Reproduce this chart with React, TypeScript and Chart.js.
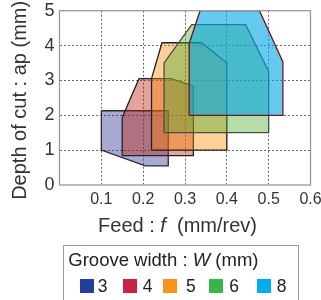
import React, { useEffect, useRef } from 'react';
import { Chart, registerables } from 'chart.js';

Chart.register(...registerables);

// ---- Data ----
const grooveWidths = ['3', '4', '5', '6', '8'];

// Operating-window polygons (feed f [mm/rev], depth of cut ap [mm]) per groove width
const feedW3 = [0.1, 0.26, 0.26, 0.205, 0.1];
const depthW3 = [2.13, 2.13, 0.55, 0.55, 1.0];

const feedW4 = [0.15, 0.15, 0.19, 0.267, 0.32, 0.32];
const depthW4 = [0.84, 1.94, 3.05, 3.05, 2.84, 0.84];

const feedW5 = [0.22, 0.22, 0.245, 0.34, 0.4, 0.4];
const depthW5 = [1.0, 3.05, 4.08, 4.08, 3.5, 1.0];

const feedW6 = [0.25, 0.25, 0.316, 0.445, 0.5, 0.5];
const depthW6 = [1.5, 3.5, 4.6, 4.6, 3.26, 1.5];

const feedW8 = [0.31, 0.31, 0.336, 0.478, 0.534, 0.534];
const depthW8 = [2.0, 4.06, 5.0, 5.0, 3.53, 2.0];

const xTickValues = [0.1, 0.2, 0.3, 0.4, 0.5, 0.6];
const yTickValues = [0, 1, 2, 3, 4, 5];

// ---- Styles ----
const FONT = '"Liberation Sans", Arial, Helvetica, sans-serif';
const fills = [
  'rgba(40,42,147,0.4)',
  'rgba(188,28,8,0.4)',
  'rgba(250,137,2,0.4)',
  'rgba(72,167,42,0.4)',
  'rgba(0,167,230,0.6)',
];
const borders = ['#2a2a2a', '#222222', '#222222', '#4a4a4a', '#6a1822'];
const legendColors = ['#21409a', '#cc2044', '#f7941d', '#39b54a', '#00aeef'];
const legendSwatchLeft = [80, 123.3, 163.3, 209.3, 257.3];
const legendLabelLeft = [97.7, 142.7, 186, 229.3, 276.7];

function poly(fx: number[], dy: number[]) {
  const pts = fx.map((x, i) => ({ x, y: dy[i] }));
  pts.push({ ...pts[0] });
  return pts;
}

const framePlugin = {
  id: 'frame',
  afterDatasetsDraw(chart: any) {
    const { ctx, chartArea: a } = chart;
    ctx.save();
    ctx.strokeStyle = '#9a9a9a';
    ctx.lineWidth = 1.3;
    ctx.strokeRect(a.left, a.top, a.right - a.left, a.bottom - a.top);
    ctx.restore();
  },
};

const titlesPlugin = {
  id: 'axisTitles',
  afterDraw(chart: any) {
    const { ctx, chartArea: a } = chart;
    ctx.save();
    ctx.fillStyle = '#333333';
    // x-axis title with italic f
    const parts = [
      { t: 'Feed : ', it: false },
      { t: 'f', it: true },
      { t: '  (mm/rev)', it: false },
    ];
    const size = 20;
    let total = 0;
    const widths = parts.map((p) => {
      ctx.font = `${p.it ? 'italic ' : ''}${size}px ${FONT}`;
      const w = ctx.measureText(p.t).width;
      total += w;
      return w;
    });
    let x = a.left + 118 - total / 2;
    const yBase = a.bottom + 47.3;
    ctx.textAlign = 'left';
    ctx.textBaseline = 'alphabetic';
    parts.forEach((p, i) => {
      ctx.font = `${p.it ? 'italic ' : ''}${size}px ${FONT}`;
      ctx.fillText(p.t, x, yBase);
      x += widths[i];
    });
    // y-axis title
    ctx.translate(26, (a.top + a.bottom) / 2 + 2.5);
    ctx.rotate(-Math.PI / 2);
    ctx.font = `20px ${FONT}`;
    ctx.textAlign = 'center';
    ctx.fillText('Depth of cut : ap (mm)', 0, 0);
    ctx.restore();
  },
};

export default function App() {
  const ref = useRef<HTMLCanvasElement | null>(null);

  useEffect(() => {
    if (!ref.current) return;
    const series = [
      poly(feedW3, depthW3),
      poly(feedW4, depthW4),
      poly(feedW5, depthW5),
      poly(feedW6, depthW6),
      poly(feedW8, depthW8),
    ];
    const datasets = series.map((data, i) => ({
      label: grooveWidths[i],
      data,
      showLine: true,
      fill: 'shape',
      backgroundColor: fills[i],
      borderColor: borders[i],
      borderWidth: 1.3,
      pointRadius: 0,
      tension: 0,
      order: series.length - i,
    }));

    const chart = new Chart(ref.current, {
      type: 'scatter',
      data: { datasets: datasets as any },
      plugins: [framePlugin, titlesPlugin],
      options: {
        animation: false,
        responsive: false,
        devicePixelRatio: 1,
        layout: { padding: { top: 10.7, right: 10.5, left: 0, bottom: 0 } },
        plugins: { legend: { display: false }, tooltip: { enabled: false } },
        scales: {
          x: {
            type: 'linear',
            min: 0,
            max: 0.6,
            afterFit: (s: any) => {
              s.height = 115;
              s.paddingLeft = 0;
              s.paddingRight = 0;
            },
            afterBuildTicks: (s: any) => {
              s.ticks = [0, ...xTickValues].map((v) => ({ value: v }));
            },
            ticks: {
              padding: 5,
              color: '#333333',
              font: { family: FONT, size: 16 },
              maxRotation: 0,
              autoSkip: false,
              callback: (v: any) => (Math.abs(Number(v)) < 1e-9 ? '' : Number(v).toFixed(1)),
            },
            grid: {
              drawTicks: false,
              lineWidth: 1,
              color: (c: any) =>
                c.tick && c.tick.value > 0.001 && c.tick.value < 0.599 ? '#6a6a6a' : 'rgba(0,0,0,0)',
            },
            border: { display: false, dash: [2, 2] },
          },
          y: {
            type: 'linear',
            min: 0,
            max: 5,
            afterFit: (s: any) => {
              s.width = 59.5;
              s.paddingTop = 0;
              s.paddingBottom = 0;
            },
            afterBuildTicks: (s: any) => {
              s.ticks = yTickValues.map((v) => ({ value: v }));
            },
            ticks: {
              padding: 5,
              color: '#333333',
              font: { family: FONT, size: 18 },
              callback: (v: any) => String(v),
            },
            grid: {
              drawTicks: false,
              lineWidth: 1,
              color: (c: any) =>
                c.tick && c.tick.value > 0.001 && c.tick.value < 4.999 ? '#6a6a6a' : 'rgba(0,0,0,0)',
            },
            border: { display: false, dash: [2, 2] },
          },
        },
      } as any,
    });
    return () => chart.destroy();
  }, []);

  const titleSize = 18.5;
  const itemSize = 17.5;
  return (
    <div
      style={{
        position: 'fixed',
        left: 0,
        top: 0,
        width: 321,
        height: 300,
        overflow: 'hidden',
        background: '#ffffff',
        fontFamily: FONT,
        color: '#222222',
      }}
    >
      <canvas ref={ref} width={321} height={300} style={{ position: 'absolute', left: 0, top: 0, width: 321, height: 300 }} />
      <div
        style={{
          position: 'absolute',
          left: 62.5,
          top: 245,
          width: 236,
          height: 80,
          border: '1px solid #9a9a9a',
          boxSizing: 'border-box',
        }}
      />
      <div
        style={{
          position: 'absolute',
          left: 68.3,
          top: 266.7 - 0.8465 * titleSize,
          fontSize: titleSize,
          lineHeight: `${titleSize}px`,
          whiteSpace: 'nowrap',
        }}
      >
        Groove width : <i>W</i> (mm)
      </div>
      {grooveWidths.map((w, i) => (
        <React.Fragment key={w}>
          <div
            style={{
              position: 'absolute',
              left: legendSwatchLeft[i],
              top: 279.3,
              width: 14,
              height: 13.4,
              background: legendColors[i],
            }}
          />
          <div
            style={{
              position: 'absolute',
              left: legendLabelLeft[i],
              top: 292.7 - 0.8465 * itemSize,
              fontSize: itemSize,
              lineHeight: `${itemSize}px`,
              whiteSpace: 'nowrap',
            }}
          >
            {w}
          </div>
        </React.Fragment>
      ))}
    </div>
  );
}
